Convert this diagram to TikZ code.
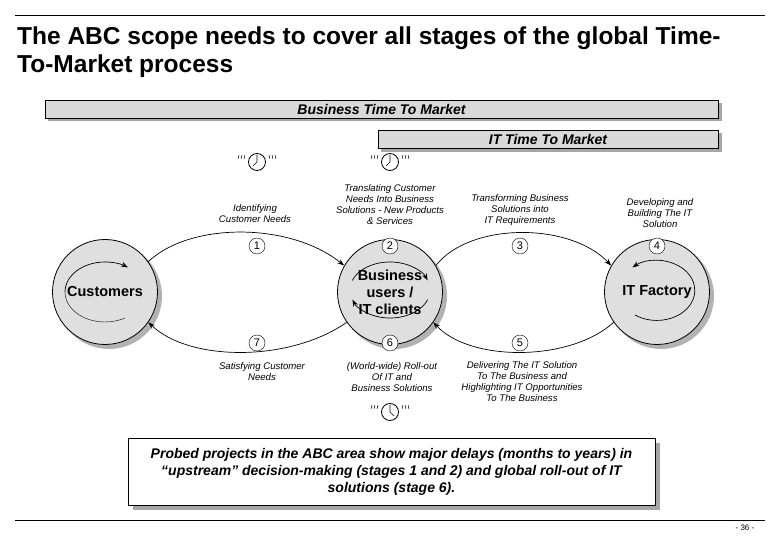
\documentclass[tikz,border=0pt]{standalone}
\usepackage{fontspec}
\setmainfont{Liberation Sans}
\usetikzlibrary{arrows.meta}
\begin{document}
\begin{tikzpicture}[x=1pt,y=-1pt,
  bar/.style={draw,fill=gray!30,line width=0.6pt,font=\bfseries\itshape\fontsize{14}{16}\selectfont},
  shad/.style={fill=gray!70,draw=none},
  big/.style={circle,draw,fill=gray!25,line width=0.8pt,minimum size=105pt,align=center,font=\bfseries\fontsize{14.5}{17}\selectfont},
  num/.style={circle,draw,fill=white,minimum size=16pt,inner sep=0pt,font=\fontsize{11}{12}\selectfont},
  lab/.style={align=center,font=\itshape\fontsize{9.6}{11}\selectfont},
  arr/.style={-{Stealth[length=7pt,width=5pt]},line width=0.7pt}]
\useasboundingbox (0,0) rectangle (780,540);
% title
\draw[line width=0.4pt] (15,15) -- (765,15);
\node[anchor=north west,align=left,font=\bfseries\fontsize{24.5}{28}\selectfont,inner sep=0pt] (title) at (17,27) {The ABC scope needs to cover all stages of the global Time-\\To-Market process};
\draw[line width=0.4pt] (15,520) -- (765,520);
\node[font=\fontsize{8}{9}\selectfont] (pg) at (745,528) {- 36 -};
% bars
\fill[shad] (48,103) rectangle (722,121);
\node[bar,minimum width=673pt,minimum height=18pt,inner sep=0pt] (btm) at (381.5,109) {Business Time To Market};
\fill[shad] (381,133) rectangle (722,152);
\node[bar,minimum width=340pt,minimum height=18pt,inner sep=0pt] (itm) at (548,139) {IT Time To Market};
% big circles
\foreach \n/\x/\t in {cust/105/Customers,bus/390/{Business\\users /\\IT clients},itf/657/IT Factory}{
  \fill[gray!60] (\x+4,296) circle (53);
  \node[big] (\n) at (\x,292) {\t};}
% inner arrows
\draw[arr] ([shift={(-40,0)}]cust.center) arc (180:305:40 and 30);
\draw ([shift={(-40,0)}]cust.center) arc (180:60:40 and 30);
\coordinate (bt) at (352.4,280.4);
\coordinate (bb) at (427.6,299.6);
\draw[arr] (bt) arc (200:340:40 and 28);
\draw[arr] (bb) arc (20:160:40 and 28);
\draw[arr] ([shift={(-22,23)}]itf.center) arc (125:-130:38 and 30);
% connector arcs
\draw[arr] (cust.35) .. controls (190,222) and (290,222) .. (bus.150);
\draw[arr] (bus.215) .. controls (290,362) and (190,362) .. (cust.325);
\draw[arr] (bus.30) .. controls (470,222) and (570,222) .. (itf.150);
\draw[arr] (itf.215) .. controls (570,362) and (470,362) .. (bus.325);
% numbers
\foreach \n/\x/\y/\t in {n1/257/246/1,n2/390/246/2,n3/520/246/3,n4/657/246/4,n7/257/343/7,n6/390/343/6,n5/520/343/5}
  \node[num] (\n) at (\x,\y) {\t};
% labels
\node[lab] (l1) at (255,214) {Identifying\\Customer Needs};
\node[lab] (l2) at (390,205) {Translating Customer\\Needs Into Business\\Solutions - New Products\\\& Services};
\node[lab] (l3) at (520,210) {Transforming Business\\Solutions into\\IT Requirements};
\node[lab] (l4) at (660,213) {Developing and\\Building The IT\\Solution};
\node[lab] (l7) at (262,372) {Satisfying Customer\\Needs};
\node[lab] (l6) at (392,377) {(World-wide) Roll-out\\Of IT and\\Business Solutions};
\node[lab] (l5) at (522,382) {Delivering The IT Solution\\To The Business and\\Highlighting IT Opportunities\\To The Business};
% clocks
\foreach \x/\y/\s in {257/162/-1,390/162/-1,390/412/1}{
  \draw[line width=0.8pt] (\x,\y) circle (8.5);
  \draw[line width=0.7pt] (\x,\y) -- ++(0,-7) (\x,\y) -- ++(\s*4,4);
  \foreach \t in {-1,1}{
    \draw[line width=0.5pt] (\x+\t*12,\y-7) -- (\x+\t*13,\y-3);
    \draw[line width=0.5pt] (\x+\t*15,\y-7) -- (\x+\t*16,\y-3);
    \draw[line width=0.5pt] (\x+\t*18,\y-7) -- (\x+\t*19,\y-3);}}
% bottom box
\fill[shad] (133,443) rectangle (660,510);
\node[draw,fill=white,line width=0.6pt,minimum width=527pt,minimum height=67pt,align=center,
  font=\bfseries\itshape\fontsize{14}{17}\selectfont] (box) at (391.5,471.5)
  {Probed projects in the ABC area show major delays (months to years) in\\``upstream'' decision-making (stages 1 and 2) and global roll-out of IT\\solutions (stage 6).};
\end{tikzpicture}
\end{document}
